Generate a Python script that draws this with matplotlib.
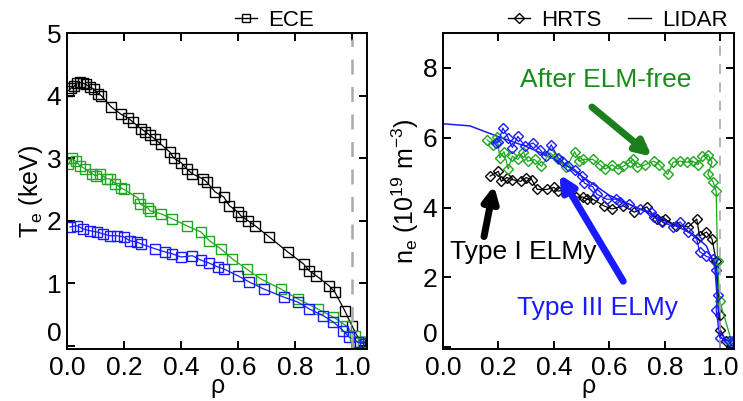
import numpy as np
import matplotlib
matplotlib.use("Agg")
import matplotlib.pyplot as plt
from matplotlib.lines import Line2D

plt.rcParams['font.family'] = ['Liberation Sans', 'DejaVu Sans']
plt.rcParams['mathtext.fontset'] = 'custom'
plt.rcParams['mathtext.rm'] = 'Liberation Sans'
plt.rcParams['mathtext.it'] = 'Liberation Sans:italic'

# ---- ECE Te profiles (rho, keV) ----
ece_black_rho = [0.005, 0.015, 0.025, 0.035, 0.045, 0.055, 0.065, 0.08, 0.095, 0.11, 0.12,
                 0.155, 0.19, 0.215, 0.23, 0.26, 0.275, 0.29, 0.31, 0.33, 0.36, 0.375, 0.40,
                 0.42, 0.44, 0.477, 0.49, 0.52, 0.55, 0.57, 0.60, 0.61, 0.635, 0.66, 0.71,
                 0.775, 0.83, 0.85, 0.875, 0.92, 0.94, 0.975, 1.0, 1.03, 1.045]
ece_black_te = [4.08, 4.12, 4.15, 4.2, 4.21, 4.2, 4.18, 4.14, 4.1, 4.03, 4.0,
                3.82, 3.7, 3.64, 3.58, 3.47, 3.42, 3.37, 3.3, 3.22, 3.1, 3.0, 2.93,
                2.83, 2.75, 2.67, 2.62, 2.46, 2.38, 2.24, 2.14, 2.08, 2.0, 1.92, 1.74,
                1.5, 1.31, 1.2, 1.12, 0.96, 0.86, 0.56, 0.32, 0.06, 0.06]

ece_green_rho = [0.005, 0.017, 0.03, 0.045, 0.063, 0.088, 0.1, 0.115, 0.14, 0.15, 0.17,
                 0.19, 0.2, 0.25, 0.256, 0.285, 0.29, 0.33, 0.37, 0.42, 0.47, 0.5, 0.54,
                 0.58, 0.63, 0.68, 0.75, 0.81, 0.88, 0.935, 0.98, 1.01, 1.04]
ece_green_te = [2.9, 3.0, 2.95, 2.88, 2.83, 2.75, 2.72, 2.75, 2.67, 2.67, 2.59,
                2.52, 2.5, 2.36, 2.27, 2.2, 2.16, 2.11, 2.03, 1.92, 1.82, 1.68, 1.55,
                1.39, 1.23, 1.07, 0.91, 0.75, 0.59, 0.46, 0.32, 0.16, 0.06]

ece_blue_rho = [0.01, 0.035, 0.056, 0.08, 0.105, 0.126, 0.15, 0.175, 0.2, 0.22, 0.245,
                0.26, 0.31, 0.345, 0.37, 0.4, 0.44, 0.47, 0.5, 0.53, 0.55, 0.6, 0.64,
                0.69, 0.76, 0.81, 0.85, 0.9, 0.935, 0.97, 0.99, 1.02, 1.045]
ece_blue_te = [1.9, 1.92, 1.87, 1.84, 1.82, 1.79, 1.76, 1.76, 1.74, 1.68, 1.66,
               1.63, 1.55, 1.5, 1.47, 1.42, 1.44, 1.37, 1.32, 1.26, 1.23, 1.12, 1.02,
               0.91, 0.78, 0.7, 0.59, 0.48, 0.38, 0.24, 0.14, 0.06, 0.03]

# ---- HRTS ne profiles (rho, 1e19 m^-3) ----
hrts_black_rho = [0.17, 0.2, 0.21, 0.23, 0.25, 0.28, 0.3, 0.32, 0.34, 0.375, 0.4, 0.415,
                  0.45, 0.48, 0.505, 0.52, 0.54, 0.58, 0.61, 0.65, 0.69, 0.735, 0.77,
                  0.79, 0.8, 0.84, 0.885, 0.915, 0.925, 0.95, 0.97, 0.985, 0.998, 1.0, 1.02]
hrts_black_ne = [4.9, 5.04, 4.75, 4.86, 4.8, 4.75, 4.86, 4.8, 4.52, 4.52, 4.58, 4.47,
                 4.53, 4.3, 4.3, 4.24, 4.24, 4.05, 3.96, 4.05, 3.87, 4.02, 3.67,
                 3.62, 3.67, 3.48, 3.45, 3.67, 3.19, 3.3, 3.1, 2.48, 0.92, 0.5, 0.18]

hrts_green_rho = [0.16, 0.18, 0.195, 0.205, 0.22, 0.235, 0.25, 0.27, 0.29, 0.305, 0.33,
                  0.355, 0.385, 0.415, 0.445, 0.475, 0.49, 0.505, 0.54, 0.565, 0.585,
                  0.61, 0.63, 0.65, 0.675, 0.685, 0.7, 0.73, 0.76, 0.78, 0.81, 0.83,
                  0.855, 0.88, 0.9, 0.92, 0.935, 0.955, 0.97, 0.955, 0.975, 0.985,
                  0.99, 0.998, 1.04]
hrts_green_ne = [5.94, 5.8, 6.03, 5.43, 5.6, 5.1, 5.47, 5.38, 5.6, 5.33, 5.38,
                 5.18, 5.57, 5.38, 5.15, 5.6, 5.33, 5.38, 5.38, 5.23, 5.1,
                 5.23, 5.1, 5.18, 5.3, 5.38, 5.15, 5.23, 5.33, 5.23, 4.95, 5.3,
                 5.33, 5.3, 5.33, 5.23, 5.47, 5.52, 5.3, 4.95, 4.72, 4.47,
                 2.48, 1.32, 0.18]

hrts_blue_rho = [0.19, 0.2, 0.216, 0.235, 0.25, 0.27, 0.295, 0.325, 0.35, 0.37, 0.39,
                 0.415, 0.43, 0.45, 0.475, 0.5, 0.51, 0.54, 0.555, 0.59, 0.625, 0.64,
                 0.67, 0.71, 0.75, 0.76, 0.79, 0.83, 0.855, 0.885, 0.915, 0.925, 0.95,
                 0.975, 0.985, 0.99, 0.985, 0.998, 1.03, 1.045]
hrts_blue_ne = [5.85, 5.89, 6.28, 6.0, 5.72, 6.04, 5.76, 5.85, 5.66, 5.47, 5.8,
                5.43, 5.32, 5.18, 5.09, 4.9, 4.7, 4.6, 4.38, 4.24, 4.24, 4.16,
                4.1, 3.95, 3.87, 3.73, 3.6, 3.45, 3.59, 3.3, 3.1, 2.74, 2.6,
                2.54, 2.2, 1.49, 1.07, 0.27, 0.18, 0.18]

lidar_blue_rho = [0.0, 0.097, 0.2, 0.3, 0.4, 0.45, 0.5, 0.6, 0.7, 0.8, 0.9, 0.95, 0.98, 1.0, 1.045]
lidar_blue_ne = [6.4, 6.34, 6.03, 5.75, 5.4, 5.18, 4.9, 4.35, 4.0, 3.62, 3.25, 2.9, 2.3, 0.3, 0.0]

black = 'black'
green = '#1ea81e'
blue = '#1a1aff'
green_txt = '#1a8c1a'
green_arrow = '#1c7f1c'

fig = plt.figure(figsize=(7.43, 4.01), dpi=100)
ax1 = fig.add_axes([0.0902, 0.1297, 0.4038, 0.788])
ax2 = fig.add_axes([0.5962, 0.1297, 0.3916, 0.788])

sq = dict(marker='s', ms=7, mfc='none', mew=1.0, lw=0.9)
ax1.plot(ece_black_rho, ece_black_te, color=black, **sq)
ax1.plot(ece_green_rho, ece_green_te, color=green, **sq)
ax1.plot(ece_blue_rho, ece_blue_te, color=blue, **sq)
ax1.axvline(1.0, color='#aaaaaa', ls=(0, (6, 5)), lw=1.8, ymax=0.98)
ax1.set_xlim(0, 1.053)
ax1.set_ylim(-0.05, 5)
ax1.set_yticks([0, 1, 2, 3, 4, 5])
ax1.set_ylabel('T$_\\mathrm{e}$ (keV)', fontsize=18, labelpad=1)

dm = dict(marker='D', ms=5, mfc='none', mew=1.0, lw=0.9)
ax2.plot(lidar_blue_rho, lidar_blue_ne, color=blue, lw=1.1)
ax2.plot(hrts_black_rho, hrts_black_ne, color=black, **dm)
ax2.plot(hrts_green_rho, hrts_green_ne, color=green, **dm)
ax2.plot(hrts_blue_rho, hrts_blue_ne, color=blue, **dm)
ax2.axvline(0.998, color='#aaaaaa', ls=(0, (6, 5)), lw=1.2, ymax=0.98)
ax2.set_xlim(0, 1.049)
ax2.set_ylim(-0.05, 9)
ax2.set_yticks([0, 2, 4, 6, 8])
ax2.set_ylabel('n$_\\mathrm{e}$ (10$^{19}$ m$^{-3}$)', fontsize=18, labelpad=1)

arrow = dict(arrowstyle='-|>,head_length=0.9,head_width=0.45', lw=5, shrinkA=0, shrinkB=0)
ax2.annotate('', xy=(0.753, 5.46), xytext=(0.537, 6.88),
             arrowprops=dict(color=green_arrow, **arrow))
ax2.annotate('', xy=(0.184, 4.63), xytext=(0.148, 3.17),
             arrowprops=dict(color=black, **arrow))
ax2.annotate('', xy=(0.42, 4.95), xytext=(0.65, 1.89),
             arrowprops=dict(color=blue, **arrow))
ax2.text(0.277, 7.65, 'After ELM-free', color=green_txt, fontsize=19, va='center')
ax2.text(0.025, 2.74, 'Type I ELMy', color=black, fontsize=19, va='center')
ax2.text(0.267, 1.12, 'Type III ELMy', color=blue, fontsize=19, va='center')

for ax in (ax1, ax2):
    ax.set_xticks([0, 0.2, 0.4, 0.6, 0.8, 1.0])
    ax.set_xticklabels(['0.0', '0.2', '0.4', '0.6', '0.8', '1.0'])
    ax.set_xlabel('ρ', fontsize=18, labelpad=-4)
    ax.tick_params(direction='in', top=True, right=True, length=6, width=1.4,
                   labelsize=19)
    ax.tick_params(axis='x', pad=5)
    ax.tick_params(axis='y', pad=4)
    for s in ax.spines.values():
        s.set_linewidth(1.4)
    # the zero label sits just above the axis corner, as in the original
    ax.get_yticklabels()[0].set_verticalalignment('bottom')

h_ece = Line2D([], [], color='black', marker='s', ms=6, mfc='none', mew=1.0, lw=1)
ax1.legend([h_ece], ['ECE'], loc='lower right', bbox_to_anchor=(0.83, 1.0),
           frameon=False, fontsize=16, handlelength=1.0, handletextpad=0.5,
           borderaxespad=0.0, borderpad=0.1)

h_hrts = Line2D([], [], color='black', marker='D', ms=5, mfc='none', mew=1.0, lw=1)
h_lidar = Line2D([], [], color='black', lw=1)
ax2.legend([h_hrts, h_lidar], ['HRTS', 'LIDAR'], loc='lower right',
           bbox_to_anchor=(0.985, 1.0), ncol=2, frameon=False, fontsize=16,
           handlelength=1.0, handletextpad=0.5, columnspacing=1.2,
           borderaxespad=0.0, borderpad=0.1)

fig.savefig('out.png', dpi=100)
